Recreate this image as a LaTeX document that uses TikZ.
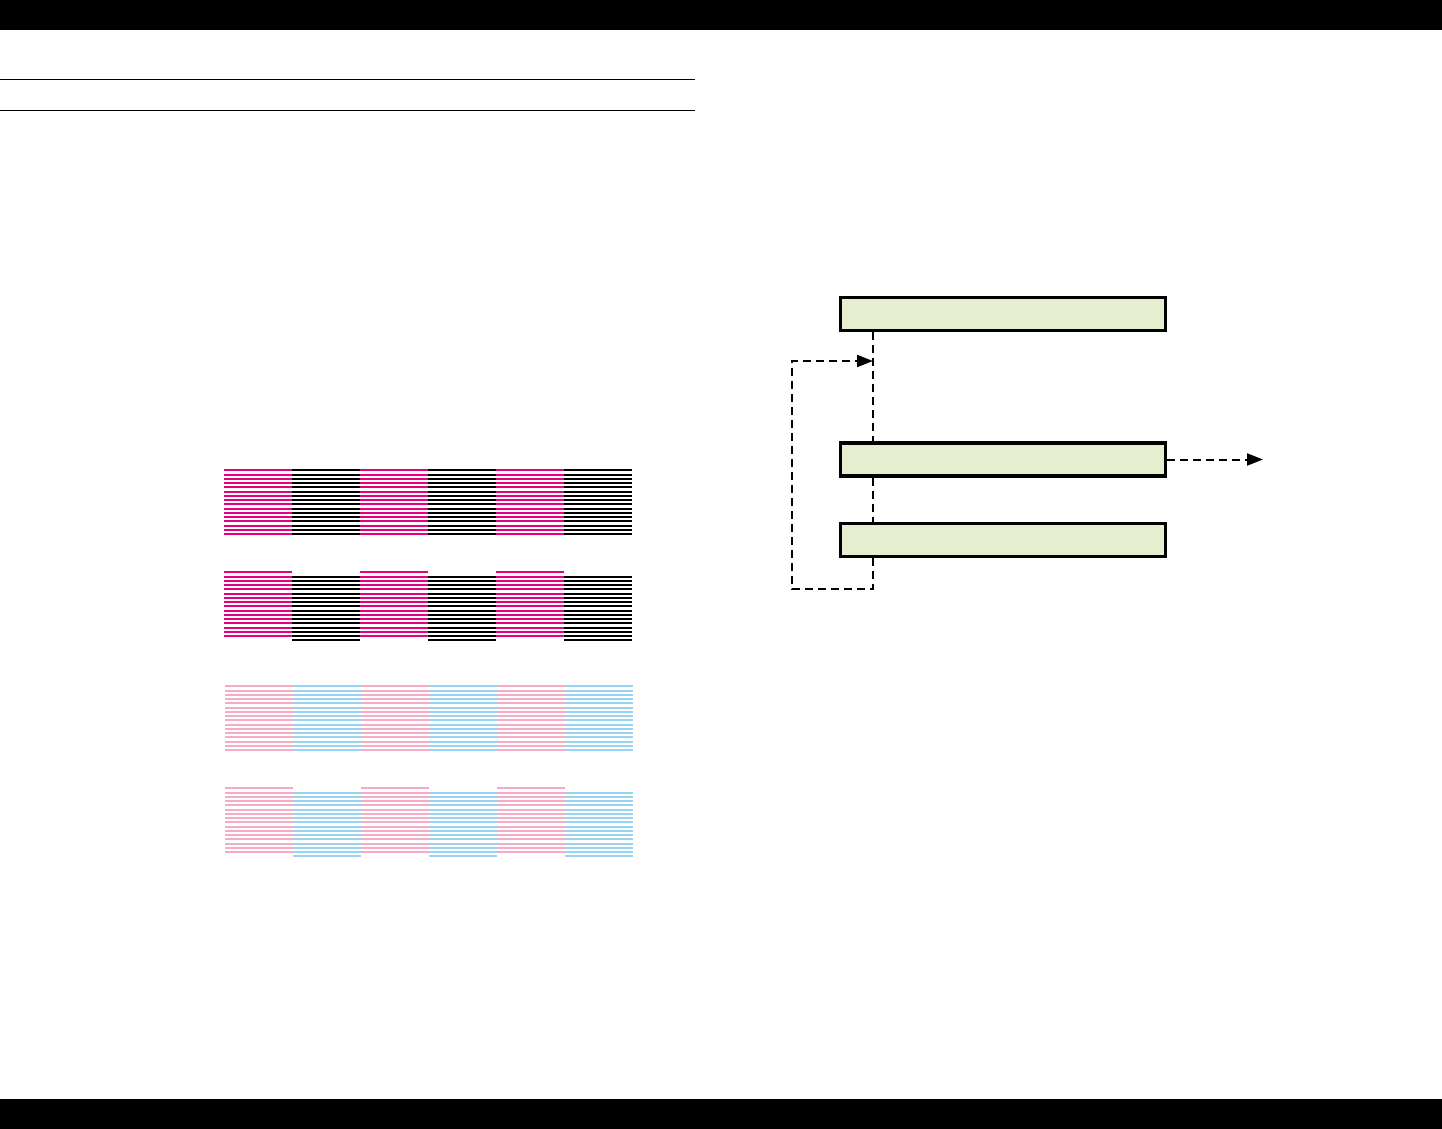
\documentclass[tikz,border=0pt]{standalone}
\usetikzlibrary{arrows.meta}
\definecolor{mag}{RGB}{228,0,127}
\definecolor{lpink}{RGB}{246,172,198}
\definecolor{lblue}{RGB}{152,212,242}
\definecolor{boxfill}{RGB}{229,239,208}
\def\offA{0,4.8,8.8,12.8,16.8,21.8,25.8,29.8,33.8,38.8,42.8,46.8,50.8,55.8,59.8,63.8}
\def\offB{4.8,8.8,12.8,16.8,21.8,25.8,29.8,33.8,38.8,42.8,46.8,50.8,55.8,59.8,63.8,67.8}
\newcommand\stripecol[4]{%
  \foreach \o in #4 {\fill[#3] (#1,#2+\o-1) rectangle ++(68,2);}%
}
\tikzset{
  fbox/.style={draw, line width=1.65pt, fill=boxfill, minimum width=162.4pt,
    minimum height=16.5pt, inner sep=0pt},
  dline/.style={line width=1pt, dash pattern=on 4pt off 2.5pt},
  tip/.style={-{Triangle[length=8pt,width=6pt]}}
}
\begin{document}
\begin{tikzpicture}[x=0.5pt,y=-0.5pt]
\useasboundingbox (0,0) rectangle (1442,1129);
% header / footer bars
\fill[black] (0,0) rectangle (1442,30);
\fill[black] (0,1099) rectangle (1442,1129);
\draw[line width=0.75pt] (0,79.5) -- (695,79.5);
\draw[line width=0.75pt] (0,110.5) -- (695,110.5);
% stripe patterns
\foreach \i in {0,2,4} {\stripecol{224+68*\i}{470}{mag}{\offA}}
\foreach \i in {1,3,5} {\stripecol{224+68*\i}{470}{black}{\offA}}
\foreach \i in {0,2,4} {\stripecol{224+68*\i}{572}{mag}{\offA}}
\foreach \i in {1,3,5} {\stripecol{224+68*\i}{572}{black}{\offB}}
\foreach \i in {0,2,4} {\stripecol{225+68*\i}{686}{lpink}{\offA}}
\foreach \i in {1,3,5} {\stripecol{225+68*\i}{686}{lblue}{\offA}}
\foreach \i in {0,2,4} {\stripecol{225+68*\i}{788}{lpink}{\offA}}
\foreach \i in {1,3,5} {\stripecol{225+68*\i}{788}{lblue}{\offB}}
% flowchart
\node[fbox] (b1) at (1003,314) {};
\node[fbox] (b2) at (1003,459.5) {};
\node[fbox] (b3) at (1003,540) {};
\coordinate (j) at (873,361);
\coordinate (c1) at (873,589);
\coordinate (c2) at (792,589);
\coordinate (c3) at (792,361);
\coordinate (e) at (1263,459.5);
\draw[dline] (b1.south -| j) -- (b2.north -| j);
\draw[dline] (b2.south -| j) -- (b3.north -| j);
\draw[dline,tip] (b3.south -| j) -- (c1) -- (c2) -- (c3) -- (j);
\draw[dline,tip] (b2.east) -- (e);
\end{tikzpicture}
\end{document}
